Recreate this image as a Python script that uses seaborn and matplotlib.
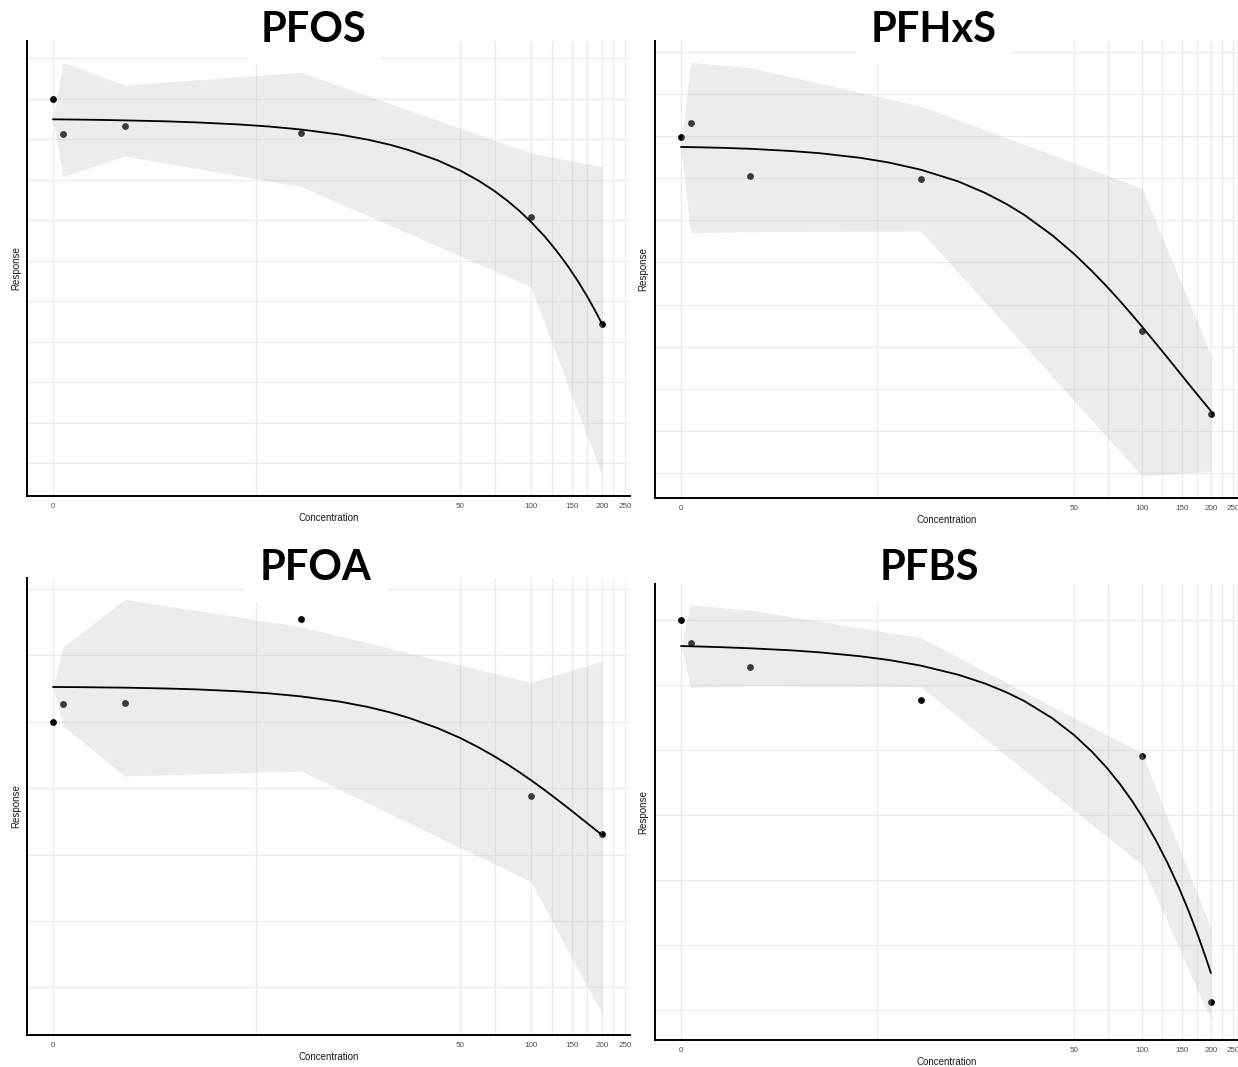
import numpy as np
import pandas as pd
import matplotlib
matplotlib.use("Agg")
import matplotlib.pyplot as plt
from matplotlib.ticker import FixedLocator, MultipleLocator, NullFormatter
import seaborn as sns

sns.set_theme(style="white")
plt.rcParams["font.family"] = ["Liberation Sans", "DejaVu Sans"]

# ---------------------------------------------------------------- data
conc_obs = [0, 0.1, 1, 10, 100, 200]
conc_band = [0, 0.1, 1, 10, 100, 200]
conc_fit = [0, 0.25, 0.5, 1, 2, 3, 5, 7, 10, 15, 20, 25, 30, 40, 50, 60, 70, 80, 90,
            100, 115, 130, 145, 160, 175, 190, 200]
x_ticks = [0, 50, 100, 150, 200, 250]

compounds = ["PFOS", "PFHxS", "PFOA", "PFBS"]

pfos_obs = [0.9502, 0.9069, 0.9168, 0.9081, 0.8044, 0.6723]
pfos_fit = [0.9247, 0.9244, 0.9241, 0.9234, 0.9222, 0.9209, 0.9184, 0.9159, 0.9121,
            0.9058, 0.8995, 0.8932, 0.8868, 0.8742, 0.8616, 0.8490, 0.8364, 0.8237,
            0.8111, 0.7985, 0.7796, 0.7606, 0.7417, 0.7228, 0.7039, 0.6849, 0.6723]
pfos_upper = [0.9247, 0.9951, 0.9670, 0.9827, 0.8831, 0.8662]
pfos_lower = [0.9247, 0.8538, 0.8794, 0.8415, 0.7180, 0.4856]

pfhxs_obs = [0.8996, 0.9163, 0.8529, 0.8493, 0.6689, 0.5698]
pfhxs_fit = [0.8874, 0.8869, 0.8864, 0.8852, 0.8826, 0.8800, 0.8745, 0.8689, 0.8604,
             0.8465, 0.8327, 0.8195, 0.8067, 0.7826, 0.7604, 0.7400, 0.7213, 0.7041,
             0.6882, 0.6736, 0.6536, 0.6359, 0.6199, 0.6055, 0.5925, 0.5807, 0.5734]
pfhxs_upper = [0.8874, 0.9881, 0.9817, 0.9361, 0.8383, 0.6400]
pfhxs_lower = [0.8874, 0.7854, 0.7866, 0.7875, 0.4961, 0.5020]

pfoa_obs = [0.8001, 0.8263, 0.8283, 0.9544, 0.6886, 0.6305]
pfoa_fit = [0.8524, 0.8522, 0.8519, 0.8514, 0.8501, 0.8488, 0.8459, 0.8429, 0.8382,
            0.8303, 0.8222, 0.8141, 0.8061, 0.7906, 0.7757, 0.7615, 0.7481, 0.7355,
            0.7235, 0.7123, 0.6967, 0.6823, 0.6692, 0.6571, 0.6460, 0.6358, 0.6294]
pfoa_upper = [0.8524, 0.9122, 0.9845, 0.9432, 0.8595, 0.8916]
pfoa_lower = [0.8524, 0.7941, 0.7183, 0.7259, 0.5591, 0.3598]

pfbs_obs = [1.0000, 0.9646, 0.9276, 0.8773, 0.7915, 0.4123]
pfbs_fit = [0.9604, 0.9595, 0.9586, 0.9569, 0.9538, 0.9507, 0.9447, 0.9389, 0.9303,
            0.9163, 0.9026, 0.8891, 0.8758, 0.8495, 0.8236, 0.7980, 0.7727, 0.7476,
            0.7227, 0.6979, 0.6611, 0.6245, 0.5882, 0.5521, 0.5162, 0.4805, 0.4569]
pfbs_upper = [0.9604, 1.0236, 1.0159, 0.9732, 0.7952, 0.5258]
pfbs_lower = [0.9604, 0.8968, 0.8993, 0.8978, 0.6232, 0.3846]

series = {
    "PFOS": (pfos_obs, pfos_fit, pfos_lower, pfos_upper),
    "PFHxS": (pfhxs_obs, pfhxs_fit, pfhxs_lower, pfhxs_upper),
    "PFOA": (pfoa_obs, pfoa_fit, pfoa_lower, pfoa_upper),
    "PFBS": (pfbs_obs, pfbs_fit, pfbs_lower, pfbs_upper),
}

# ---------------------------------------------------------------- layout
W, H = 1238, 1067
# panel box in pixels (left, right, top, bottom), y limits, grid step
panels = {
    "PFOS":  dict(box=(27, 630, 41, 496),  ylim=(0.4596, 1.0214), step=0.05,
                  xlim=(-0.2222, 262.6), title_xy=(314, 30)),
    "PFHxS": dict(box=(654.6, 1238, 41, 497.7), ylim=(0.4703, 1.0134), step=0.05,
                  xlim=(-0.2320, 262.6), title_xy=(934, 30)),
    "PFOA":  dict(box=(27, 630, 578, 1035), ylim=(0.3281, 1.0166), step=0.10,
                  xlim=(-0.2222, 262.6), title_xy=(316, 568)),
    "PFBS":  dict(box=(654.6, 1238, 584, 1040), ylim=(0.3538, 1.0559), step=0.10,
                  xlim=(-0.2320, 262.6), title_xy=(929, 568)),
}

fig = plt.figure(figsize=(W / 100, H / 100), dpi=100)
fig.patch.set_facecolor("white")

t_ticks = np.log1p(x_ticks)
minor_ticks = list(np.expm1((t_ticks[:-1] + t_ticks[1:]) / 2))

grid_color = "#ebebeb"
band_color = "#c1c1c1"

for name in compounds:
    p = panels[name]
    l, r, t, b = p["box"]
    ax = fig.add_axes([l / W, 1 - b / H, (r - l) / W, (b - t) / H])
    ax.set_facecolor("white")
    ax.set_xscale("function", functions=(np.log1p, np.expm1))
    ax.set_xlim(*p["xlim"])
    ax.set_ylim(*p["ylim"])

    obs, fit, lower, upper = series[name]
    obs_df = pd.DataFrame({"Concentration": conc_obs, "Response": obs})
    fit_df = pd.DataFrame({"Concentration": conc_fit, "Response": fit})

    sns.scatterplot(data=obs_df, x="Concentration", y="Response", ax=ax,
                    color="black", s=24, linewidth=0, zorder=2)
    ax.fill_between(conc_band, lower, upper, color=band_color, alpha=0.3,
                    linewidth=0, zorder=3)
    sns.lineplot(data=fit_df, x="Concentration", y="Response", ax=ax,
                 color="black", linewidth=1.3, errorbar=None, zorder=4)

    # grid lines
    ax.xaxis.set_major_locator(FixedLocator(x_ticks))
    ax.xaxis.set_minor_locator(FixedLocator(minor_ticks))
    ax.xaxis.set_minor_formatter(NullFormatter())
    ax.set_xticklabels([str(v) for v in x_ticks])
    ax.yaxis.set_major_locator(MultipleLocator(p["step"]))
    ax.yaxis.set_major_formatter(NullFormatter())
    ax.grid(which="both", color=grid_color, linewidth=0.9, zorder=0)
    ax.set_axisbelow(True)

    ax.tick_params(axis="both", which="both", length=0)
    ax.tick_params(axis="x", labelsize=5.8, labelcolor="#4d4d4d", pad=5)

    for side in ("top", "right"):
        ax.spines[side].set_visible(False)
    for side in ("left", "bottom"):
        ax.spines[side].set_visible(True)
        ax.spines[side].set_color("black")
        ax.spines[side].set_linewidth(1.4)
        ax.spines[side].set_zorder(5)

    ax.set_xlabel("Concentration", fontsize=7, color="#1a1a1a", labelpad=2.5)
    ax.set_ylabel("Response", fontsize=7, color="#1a1a1a", labelpad=1)

    tx, ty = p["title_xy"]
    fig.text(tx / W, 1 - ty / H, name, ha="center", va="center",
             fontsize=30, fontweight="bold", family=["Lato", "DejaVu Sans"],
             color="black", zorder=10,
             bbox=dict(facecolor="white", edgecolor="none", boxstyle="square,pad=0.35"))

fig.savefig("out.png", dpi=100, facecolor="white")
